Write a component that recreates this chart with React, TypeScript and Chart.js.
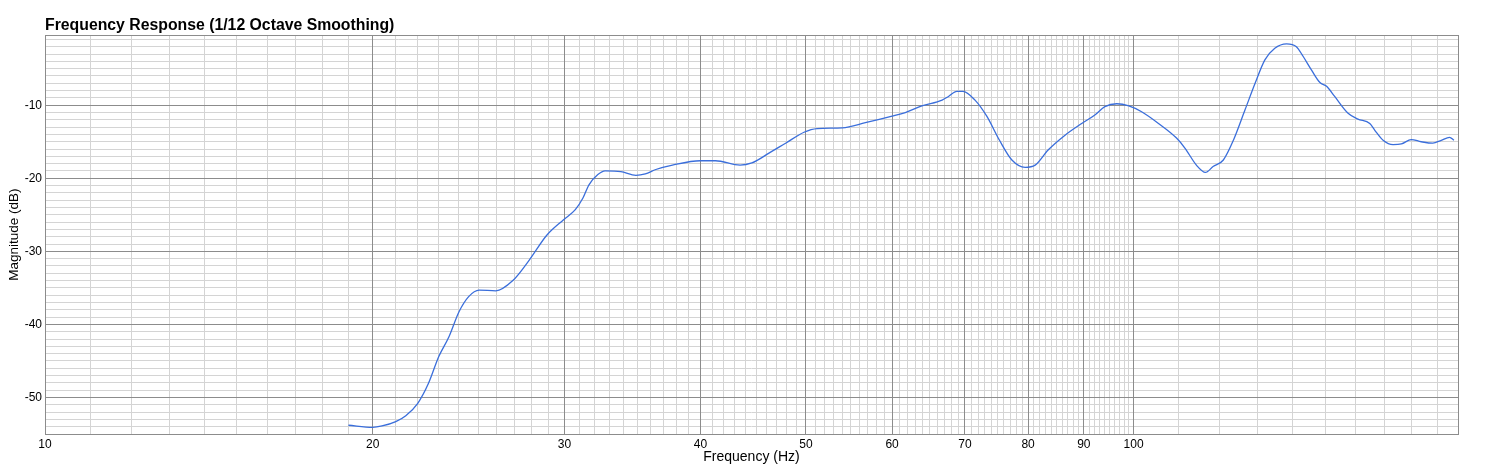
import React, { useEffect, useRef } from 'react';
import { Chart, registerables } from 'chart.js';

Chart.register(...registerables);

// ---- data ----
const freqHz: number[] = [
  19.0, 20.0, 20.4, 21.0, 21.45, 22.0, 22.5, 23.0, 23.5, 24.0, 24.5, 25.05, 25.95, 26.9, 27.85,
  28.9, 29.93, 30.7, 31.2, 31.6, 32.2, 32.7, 33.8, 34.9, 35.6, 36.4, 37.7, 40.0, 41.3, 43.5,
  44.6, 46.2, 47.9, 49.8, 51.2, 54.0, 56.7, 60.0, 61.7, 63.9, 66.7, 67.6, 68.8, 69.7, 71.5,
  73.3, 75.3, 77.3, 79.5, 81.2, 83.5, 86.5, 89.6, 92.2, 94.1, 96.5, 99.0, 101.7, 105.4, 109.5,
  111.5, 114.2, 116.4, 118.3, 120.9, 123.5, 126.6, 129.3, 132.0, 134.8, 138.2, 141.1, 143.1,
  145.7, 148.3, 150.4, 153.0, 157.4, 160.7, 164.8, 166.5, 169.5, 173.1, 176.2, 179.9, 183.7,
  188.3, 191.7, 195.1, 196.9,
];
const magnitudeDb: number[] = [
  -53.8, -54.1, -53.9, -53.3, -52.5, -50.8, -48.1, -44.4, -41.7, -38.3, -36.2, -35.3, -35.4, -34.0, -31.2,
  -27.8, -25.7, -24.3, -22.7, -20.9, -19.5, -19.0, -19.1, -19.6, -19.4, -18.8, -18.2, -17.6, -17.6, -18.2,
  -17.9, -16.6, -15.2, -13.7, -13.2, -13.1, -12.4, -11.5, -11.0, -10.1, -9.3, -8.8, -8.1, -8.1, -9.3,
  -11.5, -14.8, -17.5, -18.5, -18.2, -16.1, -14.1, -12.5, -11.3, -10.2, -9.8, -10.1, -10.9, -12.5, -14.5,
  -15.9, -18.2, -19.2, -18.4, -17.5, -14.8, -10.6, -7.0, -3.8, -2.2, -1.6, -2.0, -3.3,
  -5.2, -6.9, -7.4, -8.8, -11.1, -11.9, -12.5, -13.4, -14.8, -15.4, -15.3, -14.7, -15.0,
  -15.2, -14.8, -14.4, -14.8,
];

const xTickLabels: number[] = [10, 20, 30, 40, 50, 60, 70, 80, 90, 100];
const yTickLabels: number[] = [-50, -40, -30, -20, -10];
const xMin = 10;
const xMax = 198.6;
const yMin = -55;
const yMax = -0.4;

const titleText = 'Frequency Response (1/12 Octave Smoothing)';
const xTitle = 'Frequency (Hz)';
const yTitle = 'Magnitude (dB)';

// grid positions (1 Hz steps up to 100 Hz, 10 Hz steps above; 1 dB steps)
const xGridValues: number[] = [];
for (let f = 10; f <= 100; f += 1) xGridValues.push(f);
for (let f = 110; f < xMax; f += 10) xGridValues.push(f);
const yGridValues: number[] = [];
for (let d = yMin; d <= -1; d += 1) yGridValues.push(d);

const MAJOR = '#8c8c8c';
const MINOR = '#d4d4d4';
const LINE = '#3a6edb';
const FONT = "'Liberation Sans', Arial, Helvetica, sans-serif";

// same pixel alignment rule Chart.js uses for 1px grid lines
const align = (p: number) => Math.round(p - 0.5) + 0.5;

// major grid lines and the frame, drawn on top of the minor grid
const majorGridPlugin = {
  id: 'majorGrid',
  beforeDatasetsDraw(chart: any) {
    const { ctx, chartArea, scales } = chart;
    const l = align(chartArea.left);
    const t = align(chartArea.top);
    const r = align(chartArea.right);
    const b = align(chartArea.bottom);
    ctx.save();
    ctx.strokeStyle = MAJOR;
    ctx.lineWidth = 1;
    ctx.beginPath();
    xTickLabels.forEach((v) => {
      const px = align(scales.x.getPixelForValue(v));
      ctx.moveTo(px, t);
      ctx.lineTo(px, b);
    });
    yTickLabels.forEach((v) => {
      const py = align(scales.y.getPixelForValue(v));
      ctx.moveTo(l, py);
      ctx.lineTo(r, py);
    });
    ctx.stroke();
    ctx.strokeRect(l, t, r - l, b - t);
    ctx.restore();
  },
};

export default function App() {
  const canvasRef = useRef<HTMLCanvasElement | null>(null);

  useEffect(() => {
    if (!canvasRef.current) return;
    Chart.defaults.font.family = FONT;
    const points = freqHz.map((f, i) => ({ x: f, y: magnitudeDb[i] }));
    const chart = new Chart(canvasRef.current, {
      type: 'line',
      data: {
        datasets: [
          {
            data: points,
            borderColor: LINE,
            borderWidth: 1.3,
            pointRadius: 0,
            fill: false,
            cubicInterpolationMode: 'monotone',
          },
        ],
      },
      options: {
        animation: false,
        responsive: true,
        maintainAspectRatio: false,
        layout: { padding: { left: 0, top: 0, right: 33, bottom: 0 } },
        plugins: {
          legend: { display: false },
          tooltip: { enabled: false },
          title: {
            display: true,
            text: titleText,
            align: 'start',
            fullSize: false,
            color: '#000',
            font: { family: FONT, size: 15.8, weight: 'bold', lineHeight: 1.2 },
            padding: { top: 16.1, bottom: 0 },
          },
        },
        scales: {
          x: {
            type: 'logarithmic',
            min: xMin,
            max: xMax,
            afterBuildTicks: (scale: any) => {
              scale.ticks = xGridValues.map((v) => ({ value: v }));
            },
            afterFit: (scale: any) => {
              scale.height = 39;
            },
            ticks: {
              autoSkip: false,
              maxRotation: 0,
              padding: 3,
              color: '#000',
              font: { family: FONT, size: 12 },
              callback: (value: any) => (xTickLabels.includes(Number(value)) ? String(value) : ''),
            },
            grid: {
              drawTicks: false,
              lineWidth: 1,
              color: MINOR,
            },
            border: { display: false },
            title: {
              display: true,
              text: xTitle,
              color: '#000',
              font: { family: FONT, size: 14 },
              padding: { top: 0, bottom: 7 },
            },
          },
          y: {
            type: 'linear',
            min: yMin,
            max: yMax,
            afterBuildTicks: (scale: any) => {
              scale.ticks = yGridValues.map((v) => ({ value: v }));
            },
            afterFit: (scale: any) => {
              scale.width = 45;
            },
            ticks: {
              autoSkip: false,
              padding: 3,
              color: '#000',
              font: { family: FONT, size: 12 },
              callback: (value: any) => (yTickLabels.includes(Number(value)) ? String(value) : ''),
            },
            grid: {
              drawTicks: false,
              lineWidth: 1,
              color: MINOR,
            },
            border: { display: false },
            title: {
              display: true,
              text: yTitle,
              color: '#000',
              font: { family: FONT, size: 13.5 },
              padding: { top: 6, bottom: 0 },
            },
          },
        },
      },
      plugins: [majorGridPlugin],
    } as any);
    return () => chart.destroy();
  }, []);

  return (
    <div style={{ position: 'fixed', left: 0, top: 0, width: 1491, height: 473, background: '#fff' }}>
      <canvas ref={canvasRef} />
    </div>
  );
}
